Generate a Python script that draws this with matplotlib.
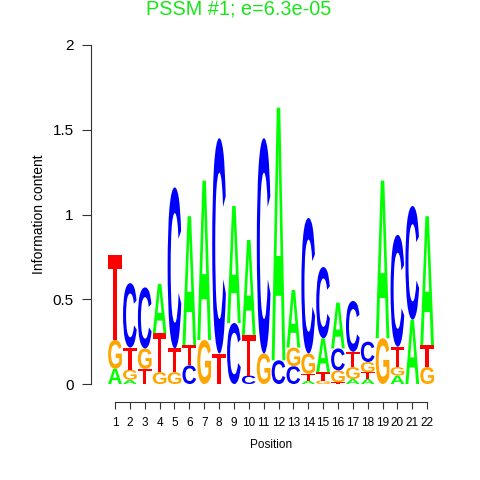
import matplotlib
matplotlib.use("Agg")
import matplotlib.pyplot as plt
from matplotlib.textpath import TextPath
from matplotlib.font_manager import FontProperties
from matplotlib.patches import PathPatch
from matplotlib.transforms import Affine2D

plt.rcParams['font.family'] = ['Liberation Sans', 'DejaVu Sans']

positions = list(range(1, 23))
# information content per letter at each position
A_h = [0.09, 0.025, 0.0, 0.29, 0.0, 0.76, 0.94, 0.0, 0.69, 0.56, 0.0, 1.49,
       0.34, 0.02, 0.20, 0.27, 0.03, 0.03, 0.93, 0.05, 0.38, 0.76]
C_h = [0.0, 0.38, 0.36, 0.0, 0.95, 0.11, 0.0, 1.27, 0.36, 0.05, 1.27, 0.14,
       0.105, 0.80, 0.42, 0.13, 0.30, 0.12, 0.0, 0.66, 0.67, 0.0]
G_h = [0.17, 0.06, 0.12, 0.07, 0.07, 0.0, 0.26, 0.0, 0.0, 0.0, 0.18, 0.0,
       0.11, 0.12, 0.02, 0.07, 0.07, 0.06, 0.27, 0.05, 0.0, 0.10]
T_h = [0.50, 0.13, 0.09, 0.23, 0.14, 0.12, 0.0, 0.18, 0.0, 0.24, 0.0, 0.0,
       0.0, 0.04, 0.05, 0.01, 0.09, 0.04, 0.0, 0.12, 0.0, 0.13]

colors = {'A': '#00ff00', 'C': '#0000ff', 'G': '#ffa500', 'T': '#ff0000'}
fp = FontProperties(family='Liberation Sans', weight='bold')


def draw_letter(ax, ch, x, y, w, h):
    tp = TextPath((0, 0), ch, size=1, prop=fp)
    bb = tp.get_extents()
    tr = Affine2D().translate(-bb.x0, -bb.y0).scale(w / bb.width, h / bb.height).translate(x - w / 2, y)
    ax.add_patch(PathPatch(tr.transform_path(tp), fc=colors[ch], ec='none', lw=0))


fig = plt.figure(figsize=(4.8, 4.8), dpi=100)
ax = fig.add_axes([91 / 480, 78 / 480, 351 / 480, 357 / 480])

for i, x in enumerate(positions):
    stack = [('A', A_h[i]), ('C', C_h[i]), ('G', G_h[i]), ('T', T_h[i])]
    stack = sorted(stack, key=lambda s: s[1])
    y = 0.0
    for ch, h in stack:
        if h > 0:
            draw_letter(ax, ch, x, y, 0.92, h)
            y += h

ax.set_xlim(-0.615, 23)
ax.set_ylim(-0.106, 2.0)
for s in ['top', 'right']:
    ax.spines[s].set_visible(False)
ax.spines['left'].set_bounds(0, 2)
ax.spines['bottom'].set_bounds(1, 22)
ax.set_yticks([0, 0.5, 1, 1.5, 2])
ax.set_yticklabels(['0', '0.5', '1', '1.5', '2'], fontsize=11)
ax.set_xticks(positions)
ax.set_xticklabels([str(p) for p in positions], fontsize=8.5)
ax.tick_params(axis='y', length=6.5, pad=6, color='#333333')
ax.tick_params(axis='x', length=5, pad=6, color='#333333')
ax.spines['left'].set_color('#333333')
ax.spines['bottom'].set_color('#333333')
ax.set_ylabel('Information content', fontsize=10)
ax.yaxis.set_label_coords(-0.127, (402 - 214) / 357)
ax.set_xlabel('Position', fontsize=8.5)
ax.xaxis.set_label_coords((271 - 91) / 351, -(445 - 402) / 357)
ax.xaxis.label.set_va('center')

fig.text(239 / 480, 1 - 9 / 480, 'PSSM #1; e=6.3e-05', color='#19e619',
         fontsize=14.3, ha='center', va='center')

fig.savefig('out.png', dpi=100)
